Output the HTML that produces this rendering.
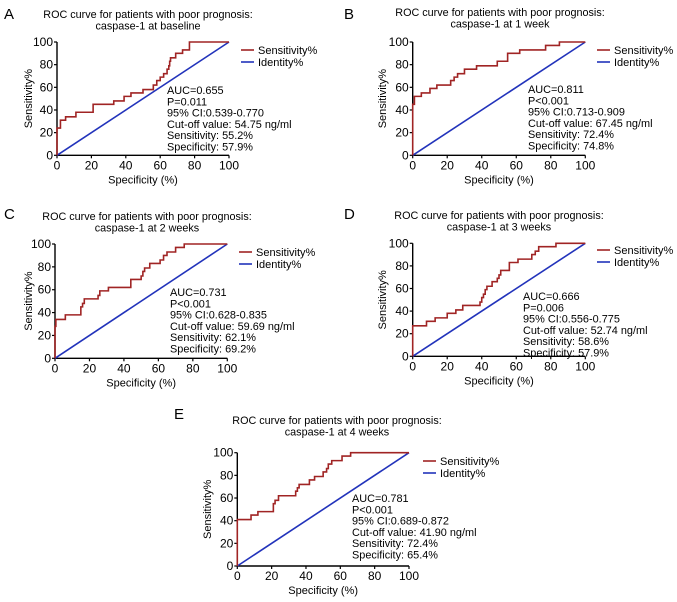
<!DOCTYPE html>
<html><head><meta charset="utf-8"><style>
html,body{margin:0;padding:0;background:#fff;}
svg{display:block;font-family:"Liberation Sans",Arial,sans-serif;}
</style></head><body>
<svg id="fig" width="677" height="602" viewBox="0 0 677 602" xmlns="http://www.w3.org/2000/svg"></svg>
<script>
// Panel data (x = 100 - specificity %, y = sensitivity %), step vertices
const ticks = [0,20,40,60,80,100];
const aX=[0,0,2,5,11,21,33,39,43,50,56,58,60,62,64,65,65.5,66,69,73,77,77,100];
const aY=[0,24,31,34,38,45,48,52,55,58,62,66,69,72,76,79,83,86,90,93,97,100,100];
const bX=[0,0,1,5,10,14,22,24,26,30,37,49,55,62,77,85,100];
const bY=[0,45,52,55,59,62,66,69,72,76,79,83,90,93,97,100,100];
const cX=[0,0,0.5,6,15,16,17,25,26,31,44,50,51,52,55,61,63,65,70,75,100];
const cY=[0,28,34,38,45,48,52,55,59,62,69,72,76,79,83,86,90,93,97,100,100];
const dX=[0,0,8,13,20,25,29,39,40,41,42,43,46,49,50,51,56,61,69,71,73,83,100];
const dY=[0,27,31,34,38,41,45,48,52,55,59,62,66,69,72,76,83,86,90,93,97,100,100];
const eX=[0,0,8,12,21,21,22,24,34,35,36,42,45,50,52,53,55,61,66,100];
const eY=[0,41,45,48,52,55,58,62,66,69,72,76,79,83,86,90,93,97,100,100];
const panelLetters=["A","B","C","D","E"];
const panelTimes=["baseline","1 week","2 weeks","3 weeks","4 weeks"];
const statsA=["AUC=0.655","P=0.011","95% CI:0.539-0.770","Cut-off value: 54.75 ng/ml","Sensitivity: 55.2%","Specificity: 57.9%"];
const statsB=["AUC=0.811","P<0.001","95% CI:0.713-0.909","Cut-off value: 67.45 ng/ml","Sensitivity: 72.4%","Specificity: 74.8%"];
const statsC=["AUC=0.731","P<0.001","95% CI:0.628-0.835","Cut-off value: 59.69 ng/ml","Sensitivity: 62.1%","Specificity: 69.2%"];
const statsD=["AUC=0.666","P=0.006","95% CI:0.556-0.775","Cut-off value: 52.74 ng/ml","Sensitivity: 58.6%","Specificity: 57.9%"];
const statsE=["AUC=0.781","P<0.001","95% CI:0.689-0.872","Cut-off value: 41.90 ng/ml","Sensitivity: 72.4%","Specificity: 65.4%"];

const NS="http://www.w3.org/2000/svg";
const svg=document.getElementById('fig');
function mk(tag,attrs,parent,text){const e=document.createElementNS(NS,tag);for(const k in attrs)e.setAttribute(k,attrs[k]);if(text!=null)e.textContent=text;parent.appendChild(e);return e;}

const layouts=[
 {x0:57,x1:229,y0:155.3,y1:42,lx:0,ly:0,stx:167,sty:94,legx:241,legy:50,ytx:28,xs:aX,ys:aY,st:statsA,titleX:148,titleY:18},
 {x0:412.7,x1:585.3,y0:155.3,y1:42,lx:340,ly:0,stx:528,sty:93,legx:597,legy:50,ytx:382,xs:bX,ys:bY,st:statsB,titleX:500,titleY:16},
 {x0:55,x1:227.3,y0:358.3,y1:244,lx:0,ly:200,stx:170,sty:296,legx:239,legy:252,ytx:28,xs:cX,ys:cY,st:statsC,titleX:147,titleY:220},
 {x0:412.7,x1:585.3,y0:356.3,y1:243.3,lx:340,ly:200,stx:523,sty:300,legx:597,legy:250,ytx:382,xs:dX,ys:dY,st:statsD,titleX:499,titleY:219},
 {x0:237.3,x1:409,y0:566,y1:452.7,lx:170,ly:400,stx:352,sty:502,legx:423,legy:461,ytx:207,xs:eX,ys:eY,st:statsE,titleX:337,titleY:424}
];

layouts.forEach((L,i)=>{
 const g=mk('g',{},svg);
 
 
 const sx=v=>L.x0+(L.x1-L.x0)*v/100;
 const sy=v=>L.y0+(L.y1-L.y0)*v/100;
 const letter=mk('text',{x:L.lx+4,y:L.ly+19,'font-size':15},g,panelLetters[i]);
 
 
 const t1=mk('text',{x:L.titleX,y:L.titleY,'font-size':10.8,'text-anchor':'middle'},g,'ROC curve for patients with poor prognosis:');
 
 
 const t2=mk('text',{x:L.titleX,y:L.titleY+11.5,'font-size':10.8,'text-anchor':'middle'},g,'caspase-1 at '+panelTimes[i]);
 
 
 const ax=mk('path',{d:`M${L.x0},${L.y1}V${L.y0}H${L.x1}`,stroke:'#000','stroke-width':1.4,fill:'none'},g);
 
 
 ticks.forEach(t=>{
  mk('line',{x1:L.x0-3,x2:L.x0,y1:sy(t),y2:sy(t),stroke:'#000','stroke-width':1.2},g);
  mk('line',{x1:sx(t),x2:sx(t),y1:L.y0,y2:L.y0+3,stroke:'#000','stroke-width':1.2},g);
  const yl=mk('text',{x:L.x0-4,y:sy(t)+4,'font-size':12,'text-anchor':'end'},g,t);
  
  
  const xl=mk('text',{x:sx(t),y:L.y0+14,'font-size':12,'text-anchor':'middle'},g,t);
  
  
 });
 const xt=mk('text',{x:(L.x0+L.x1)/2,y:L.y0+28,'font-size':11,'text-anchor':'middle'},g,'Specificity (%)');
 
 
 const ym=(L.y0+L.y1)/2;
 const yt=mk('text',{x:L.ytx,y:ym,'font-size':11,'text-anchor':'middle',transform:`rotate(-90 ${L.ytx} ${ym})`,dy:4},g,'Sensitivity%');
 
 
 const idl=mk('line',{x1:sx(0),y1:sy(0),x2:sx(100),y2:sy(100),stroke:'#2233bb','stroke-width':1.6},g);
 
 
 let d=`M${sx(L.xs[0])},${sy(L.ys[0])}`;
 for(let k=1;k<L.xs.length;k++){d+=`H${sx(L.xs[k])}V${sy(L.ys[k])}`;}
 const roc=mk('path',{d:d,stroke:'#a02424','stroke-width':1.6,fill:'none'},g);
 
 
 const lg=mk('g',{},g);
 
 
 mk('line',{x1:L.legx,x2:L.legx+13,y1:L.legy,y2:L.legy,stroke:'#a02424','stroke-width':1.6},lg);
 const l1=mk('text',{x:L.legx+17,y:L.legy+4,'font-size':11,},lg,'Sensitivity%');
 
 
 mk('line',{x1:L.legx,x2:L.legx+13,y1:L.legy+12,y2:L.legy+12,stroke:'#2233bb','stroke-width':1.6},lg);
 const l2=mk('text',{x:L.legx+17,y:L.legy+16,'font-size':11},lg,'Identity%');
 
 
 L.st.forEach((s,k)=>{
  const st=mk('text',{x:L.stx,y:L.sty+k*11.3,'font-size':10.9},g,s);
  
  
 });
});
</script>
</body></html>
